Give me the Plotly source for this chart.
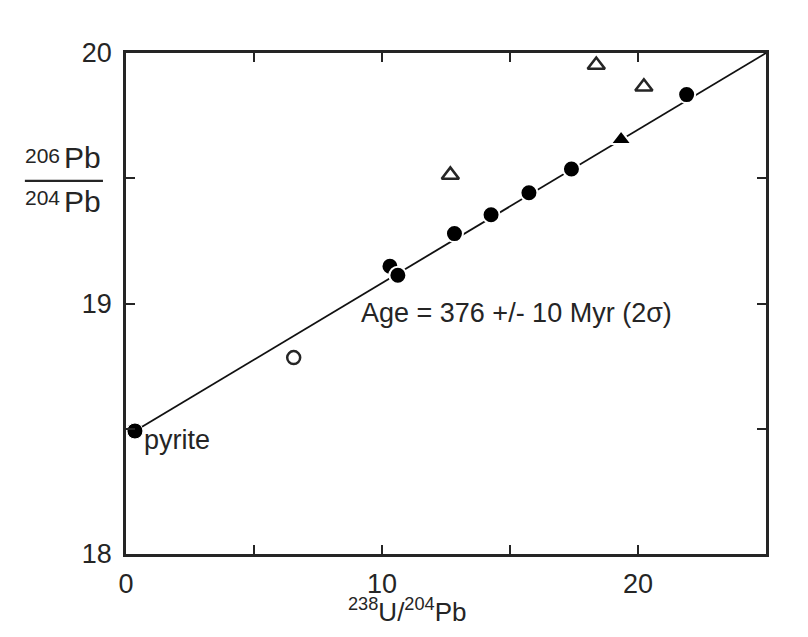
import plotly.graph_objects as go

# Data
pyrite_x = [0.35]
pyrite_y = [18.491]
filled_circle_x = [10.31, 10.62, 12.83, 14.26, 15.74, 17.40, 21.90]
filled_circle_y = [19.149, 19.113, 19.279, 19.354, 19.442, 19.537, 19.834]
open_circle_x = [6.55]
open_circle_y = [18.784]
filled_triangle_x = [19.34]
filled_triangle_y = [19.655]
open_triangle_x = [12.67, 18.37, 20.23]
open_triangle_y = [19.513, 19.952, 19.865]
isochron_x = [0.35, 25.0]
isochron_y = [18.491, 20.0]

x_tickvals = [0, 5, 10, 15, 20, 25]
x_ticktext = ["0", "", "10", "", "20", ""]
y_tickvals = [18, 18.5, 19, 19.5, 20]
y_ticktext = ["18", "", "19", "", "20"]

FONT = "Liberation Sans, Arial, sans-serif"
INK = "#252525"

fig = go.Figure()
fig.add_trace(go.Scatter(x=isochron_x, y=isochron_y, mode="lines",
                         line=dict(color="#111", width=1.8), hoverinfo="skip"))
fig.add_trace(go.Scatter(x=filled_circle_x, y=filled_circle_y, mode="markers",
                         marker=dict(symbol="circle", size=17, color="#000",
                                     line=dict(color="white", width=2))))
fig.add_trace(go.Scatter(x=pyrite_x, y=pyrite_y, mode="markers",
                         marker=dict(symbol="circle", size=16, color="#000",
                                     line=dict(color="white", width=1))))
fig.add_trace(go.Scatter(x=open_circle_x, y=open_circle_y, mode="markers",
                         marker=dict(symbol="circle-open", size=13, color=INK,
                                     line=dict(width=2.5))))
fig.add_trace(go.Scatter(x=filled_triangle_x, y=filled_triangle_y, mode="markers",
                         marker=dict(symbol="triangle-up", size=18, color="#000",
                                     line=dict(color="white", width=2))))
fig.add_trace(go.Scatter(x=open_triangle_x, y=open_triangle_y, mode="markers",
                         marker=dict(symbol="triangle-up-open", size=15, color=INK,
                                     line=dict(width=2.6))))

fig.add_annotation(x=15.25, y=18.962, text="Age = 376 +/- 10 Myr (2σ)", showarrow=False,
                   xanchor="center", font=dict(family=FONT, size=27, color=INK))
fig.add_annotation(x=0.62, y=18.455, text="pyrite", showarrow=False, xanchor="left",
                   font=dict(family=FONT, size=27, color=INK))

# x-axis label
fig.add_annotation(xref="paper", yref="paper", x=0.44, y=-0.113, xanchor="center",
                   yanchor="middle", text="<sup>238</sup>U/<sup>204</sup>Pb", showarrow=False,
                   font=dict(family=FONT, size=26, color=INK))

# y-axis fraction label (superscript mass numbers drawn as separate, larger texts)
for txt, xp, yp, fs in [("206", -0.1305, 0.795, 21), ("Pb", -0.068, 0.792, 30),
                        ("204", -0.1305, 0.712, 21), ("Pb", -0.068, 0.703, 30)]:
    fig.add_annotation(xref="paper", yref="paper", x=xp, y=yp, xanchor="center",
                       yanchor="middle", text=txt, showarrow=False,
                       font=dict(family=FONT, size=fs, color=INK))
fig.add_shape(type="line", xref="paper", yref="paper", x0=-0.158, x1=-0.036,
              y0=0.7446, y1=0.7446, line=dict(color=INK, width=2.2))

fig.update_layout(
    width=808, height=637,
    margin=dict(l=118, r=50, t=45, b=91),
    paper_bgcolor="white", plot_bgcolor="white",
    showlegend=False,
    font=dict(family=FONT, size=27, color=INK),
    xaxis=dict(range=[0, 25], tickvals=x_tickvals, ticktext=x_ticktext,
               ticks="inside", ticklen=9, tickwidth=2, tickcolor=INK,
               showline=True, linecolor=INK, linewidth=2.5, mirror="ticks",
               showgrid=False, zeroline=False, ticklabelstandoff=4),
    yaxis=dict(range=[18, 20], tickvals=y_tickvals, ticktext=y_ticktext,
               ticks="inside", ticklen=9, tickwidth=2, tickcolor=INK,
               showline=True, linecolor=INK, linewidth=2.5, mirror="ticks",
               showgrid=False, zeroline=False, ticklabelstandoff=6),
)

fig.write_html("out.html")
